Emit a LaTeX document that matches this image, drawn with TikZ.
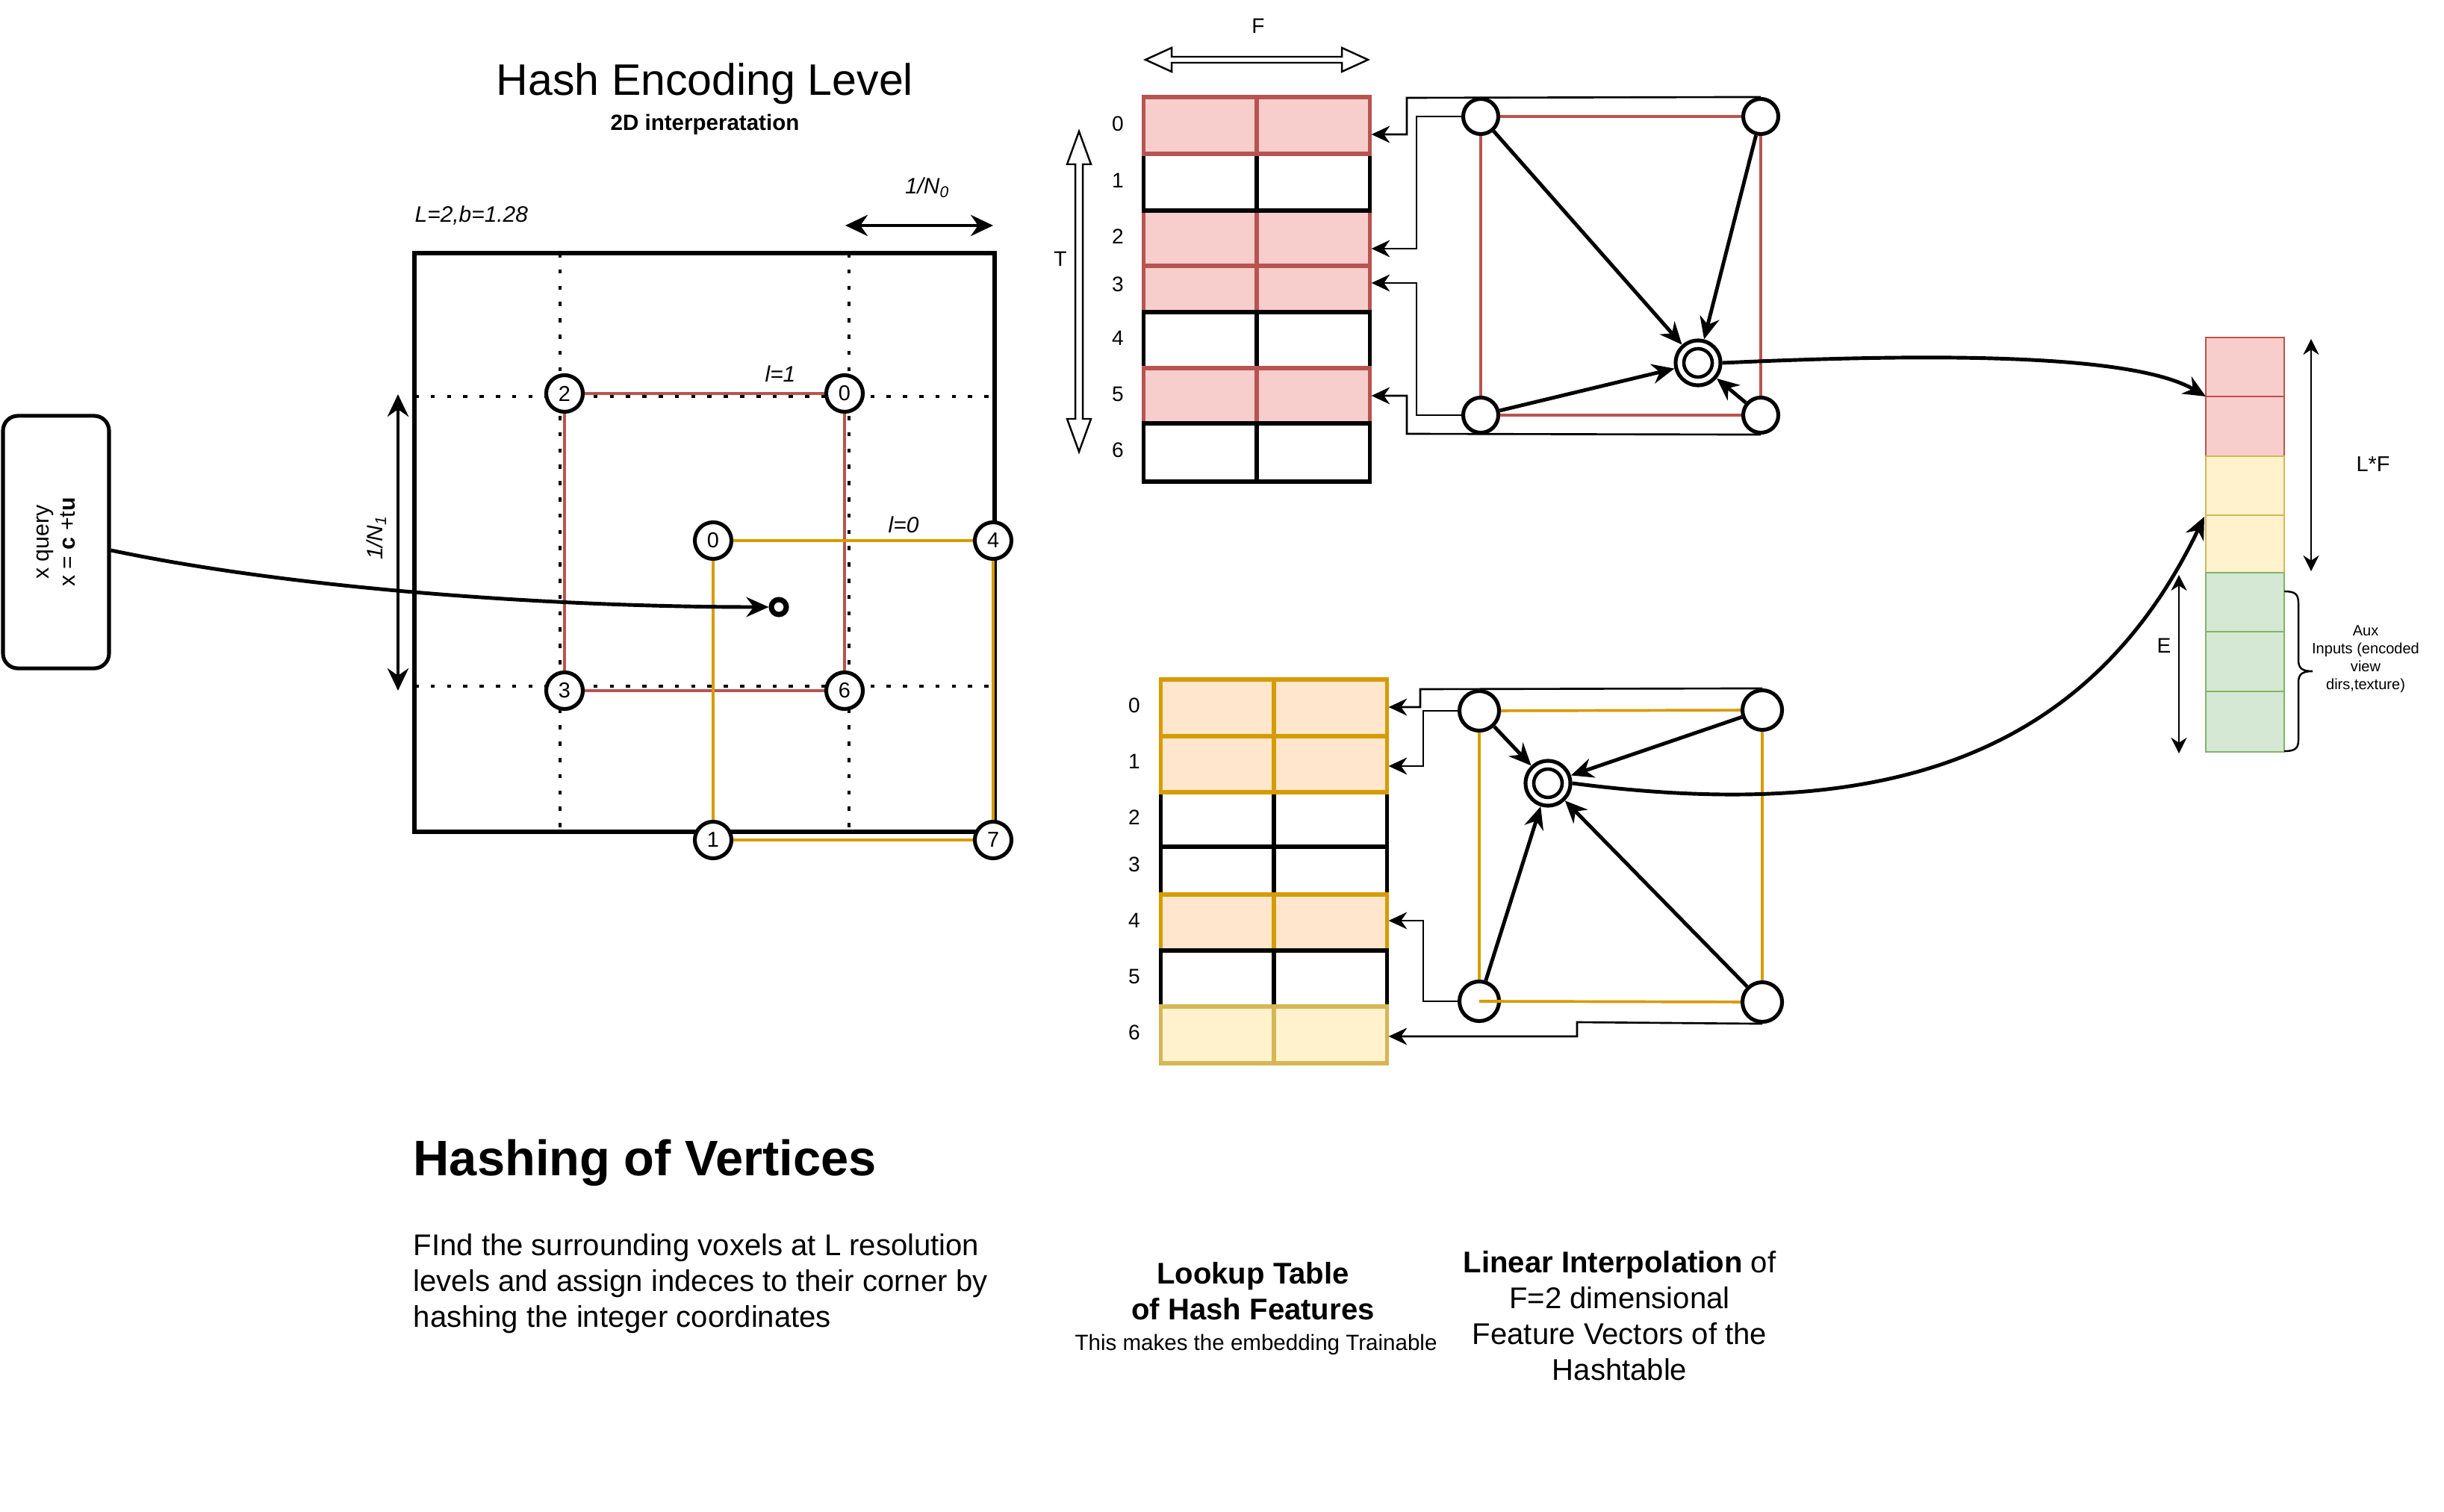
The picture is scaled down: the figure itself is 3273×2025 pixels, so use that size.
\documentclass[tikz,border=0pt]{standalone}
\usepackage{fontspec}
\setmainfont{Liberation Sans}
\usetikzlibrary{arrows.meta,calc}
\definecolor{redS}{HTML}{B85450}
\definecolor{redF}{HTML}{F8CECC}
\definecolor{orgS}{HTML}{D79B00}
\definecolor{orgF}{HTML}{FFE6CC}
\definecolor{ylwS}{HTML}{D6B656}
\definecolor{ylwF}{HTML}{FFF2CC}
\definecolor{grnS}{HTML}{82B366}
\definecolor{grnF}{HTML}{D5E8D4}
\begin{document}
\begin{tikzpicture}[x=0.01cm,y=-0.01cm,
  every node/.style={inner sep=0pt},
  thk/.style={line width=1.45pt},
  bigarrow/.style={line width=1.4pt,-{Stealth[length=8.5pt,width=7.5pt]}},
  bigdouble/.style={line width=1.4pt,{Stealth[length=8.5pt,width=8pt]}-{Stealth[length=8.5pt,width=8pt]}},
  thindouble/.style={line width=0.7pt,{Stealth[length=6pt,width=6pt]}-{Stealth[length=6pt,width=6pt]}},
  conn/.style={line width=0.75pt,-{Stealth[length=7pt,width=6.5pt]}},
  dotline/.style={line width=1.3pt,dash pattern=on 1.6pt off 4.6pt},
  gv/.style={circle,draw,line width=1.45pt,fill=white,minimum size=0.49cm,font=\fontsize{8.2pt}{9pt}\selectfont},
  tv/.style={circle,draw,line width=1.45pt,fill=white,minimum size=0.47cm},
  tvb/.style={circle,draw,line width=1.45pt,fill=white,minimum size=0.53cm},
  ipn/.style={circle,draw,line width=1.45pt,fill=white,minimum size=0.6cm},
  redl/.style={draw=redS,line width=1.05pt},
  orgl/.style={draw=orgS,line width=1.05pt},
  trow/.style={draw,line width=1.45pt,minimum width=3.02cm},
  rowlbl/.style={font=\fontsize{8pt}{9pt}\selectfont},
  flex/.style={draw,line width=0.7pt,fill=white},
  cell/.style={line width=0.7pt},
  ital/.style={font=\itshape\fontsize{8.5pt}{10pt}\selectfont},
  body/.style={font=\fontsize{11.4pt}{13.66pt}\selectfont},
]
\fill[white] (0,0) rectangle (3273,2025);
\useasboundingbox (0,0) rectangle (3273,2025);

% ---------- titles ----------
\node[anchor=base,font=\fontsize{16.8pt}{20pt}\selectfont] (title) at (944,128) {Hash Encoding Level};
\node[anchor=base,font=\bfseries\fontsize{8.4pt}{10pt}\selectfont] (subtitle) at (944,175) {2D interperatation};
\node[anchor=base west,ital] (lb) at (555,298) {L=2,b=1.28};
\node[anchor=base,ital] (n0) at (1242,260) {1/N\textsubscript{0}};
\node[ital,rotate=90] (n1) at (504,720) {1/N\textsubscript{1}};

% ---------- grid ----------
\draw[thk] (555,339) rectangle (1332,1114);
\draw[dotline] (750,339) -- (750,1114);
\draw[dotline] (1137,339) -- (1137,1114);
\draw[dotline] (555,531) -- (1332,531);
\draw[dotline] (555,919) -- (1332,919);

\coordinate (n0a) at (1132,302);
\coordinate (n0b) at (1330,302);
\draw[bigdouble] (n0a) -- (n0b);
\coordinate (n1a) at (533,528);
\coordinate (n1b) at (533,925);
\draw[bigdouble] (n1a) -- (n1b);

\node[gv] (g2) at (756,527) {2};
\node[gv] (g0) at (1131,527) {0};
\node[gv] (g3) at (756,925) {3};
\node[gv] (g6) at (1131,925) {6};
\node[gv] (o0) at (955,724) {0};
\node[gv] (o4) at (1330,724) {4};
\node[gv] (o1) at (955,1125) {1};
\node[gv] (o7) at (1330,1125) {7};

\draw[redl] (g2) -- (g0);
\draw[redl] (g2) -- (g3);
\draw[redl] (g0) -- (g6);
\draw[redl] (g3) -- (g6);
\draw[orgl] (o0) -- (o4);
\draw[orgl] (o0) -- (o1);
\draw[orgl] (o4) -- (o7);
\draw[orgl] (o1) -- (o7);

\node[anchor=base,ital] (l1) at (1045,512) {l=1};
\node[anchor=base,ital] (l0) at (1210,713) {l=0};

% query point
\node[circle,draw,line width=2pt,minimum size=0.2cm] (qp) at (1043,813) {};
\node[draw,line width=1.45pt,rounded corners=0.2cm,rotate=90,minimum width=3.38cm,minimum height=1.42cm,align=center,font=\fontsize{8.6pt}{10pt}\selectfont] (q) at (75,726) {x query\\x = \textbf{c} +t\textbf{u}};
\draw[bigarrow] ($(q.south)+(0,11)$) .. controls (400,790) and (750,813) .. (qp.west);

% ---------- top table ----------
\node[rowlbl] (F) at (1685,35) {F};
\node[rowlbl] (T) at (1420,347) {T};
\draw[flex] (1534,80) -- (1569,64) -- (1569,76) -- (1797,76) -- (1797,64) -- (1832,80) -- (1797,96) -- (1797,84) -- (1569,84) -- (1569,96) -- cycle;
\draw[flex] (1445,176) -- (1461,220) -- (1450,220) -- (1450,561) -- (1461,561) -- (1445,605) -- (1429,561) -- (1440,561) -- (1440,220) -- (1429,220) -- cycle;

\node[trow,fill=redF,draw=redS,minimum height=0.74cm] (a2) at (1683,319) {};
\draw[redS,thk] (a2.north) -- (a2.south);
\node[trow,fill=white,minimum height=0.76cm] (a1) at (1683,244) {};
\draw[thk] (a1.north) -- (a1.south);
\node[trow,fill=redF,draw=redS,minimum height=0.76cm] (a0) at (1683,168) {};
\draw[redS,thk] (a0.north) -- (a0.south);
\node[trow,fill=redF,draw=redS,minimum height=0.62cm] (a3) at (1683,387) {};
\draw[redS,thk] (a3.north) -- (a3.south);
\node[trow,fill=white,minimum height=0.75cm] (a4) at (1683,455.5) {};
\draw[thk] (a4.north) -- (a4.south);
\node[trow,fill=redF,draw=redS,minimum height=0.74cm] (a5) at (1683,530) {};
\draw[redS,thk] (a5.north) -- (a5.south);
\node[trow,fill=white,minimum height=0.78cm] (a6) at (1683,606) {};
\draw[thk] (a6.north) -- (a6.south);

\node[rowlbl] (ta0) at (1497,166) {0};
\node[rowlbl] (ta1) at (1497,242) {1};
\node[rowlbl] (ta2) at (1497,317) {2};
\node[rowlbl] (ta3) at (1497,381) {3};
\node[rowlbl] (ta4) at (1497,453) {4};
\node[rowlbl] (ta5) at (1497,528) {5};
\node[rowlbl] (ta6) at (1497,603) {6};

\node[tv] (tl1) at (1983,156) {};
\node[tv] (tr1) at (2358,156) {};
\node[tv] (bl1) at (1983,556) {};
\node[tv] (br1) at (2358,556) {};
\node[ipn] (ip1) at (2274,486) {};
\draw[line width=1.3pt] (ip1.center) circle (0.19cm);

\draw[redl] (tl1) -- (tr1);
\draw[redl] (tl1) -- (bl1);
\draw[redl] (tr1) -- (br1);
\draw[redl] (bl1) -- (br1);

\draw[bigarrow] (tl1) -- (ip1);
\draw[bigarrow] (tr1) -- (ip1);
\draw[bigarrow] (bl1) -- (ip1);
\draw[bigarrow] (br1) -- (ip1);

\coordinate (ca0) at (1884,180);
\coordinate (ca2) at (1897,333);
\coordinate (ca3) at (1897,379);
\coordinate (ca5) at (1884,530);
\draw[conn] (tr1.north) -- (1884,131) -- (ca0) -- (ca0 -| a0.east);
\draw[conn] (tl1.west) -- (1897,156) -- (ca2) -- (ca2 -| a2.east);
\draw[conn] (bl1.west) -- (1897,556) -- (ca3) -- (ca3 -| a3.east);
\draw[conn] (br1.south) -- (1884,581) -- (ca5) -- (ca5 -| a5.east);

% ---------- bottom table ----------
\node[trow,fill=white,minimum height=0.73cm] (b2) at (1706,1097.5) {};
\draw[thk] (b2.north) -- (b2.south);
\node[trow,fill=orgF,draw=orgS,minimum height=0.75cm] (b1) at (1706,1023.5) {};
\draw[orgS,thk] (b1.north) -- (b1.south);
\node[trow,fill=orgF,draw=orgS,minimum height=0.76cm] (b0) at (1706,948) {};
\draw[orgS,thk] (b0.north) -- (b0.south);
\node[trow,fill=white,minimum height=0.64cm] (b3) at (1706,1166) {};
\draw[thk] (b3.north) -- (b3.south);
\node[trow,fill=orgF,draw=orgS,minimum height=0.75cm] (b4) at (1706,1235.5) {};
\draw[orgS,thk] (b4.north) -- (b4.south);
\node[trow,fill=white,minimum height=0.75cm] (b5) at (1706,1310.5) {};
\draw[thk] (b5.north) -- (b5.south);
\node[trow,fill=ylwF,draw=ylwS,minimum height=0.76cm] (b6) at (1706,1386) {};
\draw[ylwS,thk] (b6.north) -- (b6.south);

\node[rowlbl] (tb0) at (1519,945) {0};
\node[rowlbl] (tb1) at (1519,1020) {1};
\node[rowlbl] (tb2) at (1519,1095) {2};
\node[rowlbl] (tb3) at (1519,1158) {3};
\node[rowlbl] (tb4) at (1519,1233) {4};
\node[rowlbl] (tb5) at (1519,1308) {5};
\node[rowlbl] (tb6) at (1519,1383) {6};

\node[tvb] (tl2) at (1981,952) {};
\node[tvb] (tr2) at (2360,951) {};
\node[tvb] (bl2) at (1981,1341) {};
\node[tvb] (br2) at (2360,1342) {};
\node[ipn] (ip2) at (2073,1049) {};
\draw[line width=1.3pt] (ip2.center) circle (0.19cm);

\draw[orgl] (tl2) -- (tr2);
\draw[orgl] (tl2) -- (bl2);
\draw[orgl] (tr2) -- (br2);
\draw[orgl] (bl2.center) -- (br2);

\draw[bigarrow] (tl2) -- (ip2);
\draw[bigarrow] (tr2) -- (ip2);
\draw[bigarrow] (bl2) -- (ip2);
\draw[bigarrow] (br2) -- (ip2);

\coordinate (cb0) at (1902,947);
\coordinate (cb1) at (1906,1026);
\coordinate (cb4) at (1906,1233);
\coordinate (cb6) at (2112,1388);
\draw[conn] (tr2.north) -- (1902,923) -- (cb0) -- (cb0 -| b0.east);
\draw[conn] (tl2.west) -- (1906,952) -- (cb1) -- (cb1 -| b1.east);
\draw[conn] (bl2.west) -- (1906,1341) -- (cb4) -- (cb4 -| b4.east);
\draw[conn] (br2.south) -- (2112,1369) -- (cb6) -- (cb6 -| b6.east);

% ---------- output vector ----------
\draw[cell,fill=redF,draw=redS] (2954,452) rectangle (3059,531);
\draw[cell,fill=redF,draw=redS] (2954,531) rectangle (3059,611);
\draw[cell,fill=ylwF,draw=ylwS] (2954,611) rectangle (3059,690);
\draw[cell,fill=ylwF,draw=ylwS] (2954,690) rectangle (3059,767);
\draw[cell,fill=grnF,draw=grnS] (2954,767) rectangle (3059,846);
\draw[cell,fill=grnF,draw=grnS] (2954,846) rectangle (3059,926);
\draw[cell,fill=grnF,draw=grnS] (2954,926) rectangle (3059,1007);
\coordinate (v01) at (2954,531);
\coordinate (v23) at (2952,692);

\draw[bigarrow] (ip1.east) .. controls (2550,475) and (2850,470) .. (v01);
\draw[bigarrow] (ip2.east) .. controls (2500,1100) and (2790,1030) .. (v23);

\coordinate (lfa) at (3095,454);
\coordinate (lfb) at (3095,765);
\draw[thindouble] (lfa) -- (lfb);
\node[font=\fontsize{8.2pt}{10pt}\selectfont] (LF) at (3178,622) {L*F};
\coordinate (ea) at (2918,770);
\coordinate (eb) at (2918,1009);
\draw[thindouble] (ea) -- (eb);
\node[font=\fontsize{8pt}{10pt}\selectfont] (E) at (2898,865) {E};

\draw[line width=0.7pt] (3059,792) .. controls (3074,792) and (3078,796) .. (3078,808) -- (3078,884) .. controls (3078,895) and (3083,899) .. (3097,899) .. controls (3083,899) and (3078,903) .. (3078,914) -- (3078,991) .. controls (3078,1002) and (3074,1006) .. (3059,1006);
\node[align=center,font=\fontsize{5.7pt}{6.8pt}\selectfont] (aux) at (3168,883) {Aux\\Inputs (encoded\\view\\dirs,texture)};

% ---------- bottom texts ----------
\node[anchor=base west,font=\bfseries\fontsize{19pt}{23pt}\selectfont] (hv) at (553,1574) {Hashing of Vertices};
\node[anchor=north west,align=left,body] (para) at (553,1652) {FInd the surrounding voxels at L resolution\\levels and assign indeces to their corner by\\hashing the integer coordinates};
\node[anchor=north,align=center,font=\bfseries\fontsize{11.4pt}{13.66pt}\selectfont] (lt) at (1678,1690) {Lookup Table\\of Hash Features};
\node[anchor=base,font=\fontsize{8.4pt}{10pt}\selectfont] (tm) at (1682,1808) {This makes the embedding Trainable};
\node[anchor=north,align=center,body] (li) at (2169,1675) {\textbf{Linear Interpolation} of\\F=2 dimensional\\Feature Vectors of the\\Hashtable};
\end{tikzpicture}
\end{document}
